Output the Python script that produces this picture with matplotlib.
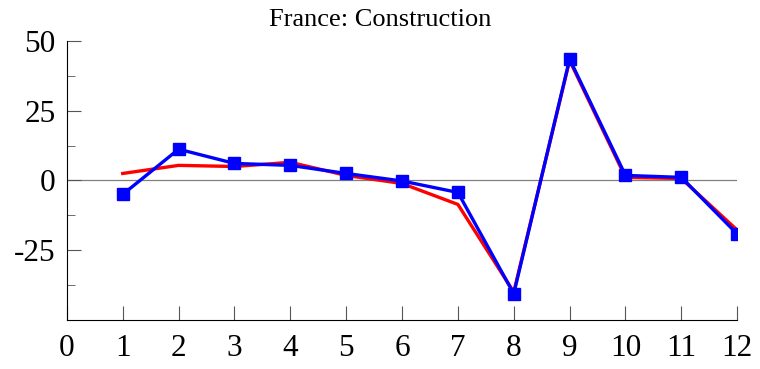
import numpy as np
import matplotlib
matplotlib.use("Agg")
import matplotlib.pyplot as plt
from matplotlib.ticker import MultipleLocator

plt.rcParams['font.family'] = ['Liberation Serif', 'DejaVu Serif']
plt.rcParams['axes.unicode_minus'] = False

months = [1, 2, 3, 4, 5, 6, 7, 8, 9, 10, 11, 12]
red_vals = [2.5, 5.4, 5.0, 6.5, 1.8, -1.1, -8.6, -40.0, 43.0, 1.1, 0.7, -17.8]
blue_vals = [-5.0, 11.2, 6.1, 5.4, 2.5, -0.2, -4.3, -40.6, 43.5, 1.8, 1.1, -19.2]

fig = plt.figure(figsize=(7.6, 3.69), dpi=100)
ax = fig.add_axes([0.088, 0.133, 0.882, 0.756])

ax.axhline(0, color='grey', lw=0.9, zorder=1)
ax.plot(months, red_vals, color='red', lw=2.4, zorder=2)
ax.plot(months, blue_vals, color='blue', lw=2.4, marker='s', ms=8.5, zorder=3)

ax.set_xlim(0, 12)
ax.set_ylim(-50, 50)
ax.set_xticks(range(13))
ax.set_yticks([-25, 0, 25, 50])
ax.yaxis.set_minor_locator(MultipleLocator(12.5))
ax.tick_params(axis='both', which='major', direction='in', labelsize=22.5, color='#555555')
ax.tick_params(axis='y', which='major', length=10, pad=8)
ax.tick_params(axis='y', which='minor', direction='in', length=6, color='#555555')
ax.tick_params(axis='x', which='major', length=10, pad=10)

for s in ('top', 'right'):
    ax.spines[s].set_visible(False)

fig.text(0.5, 0.945, 'France: Construction', ha='center', va='center', fontsize=19)

fig.savefig('out.png', dpi=100)
